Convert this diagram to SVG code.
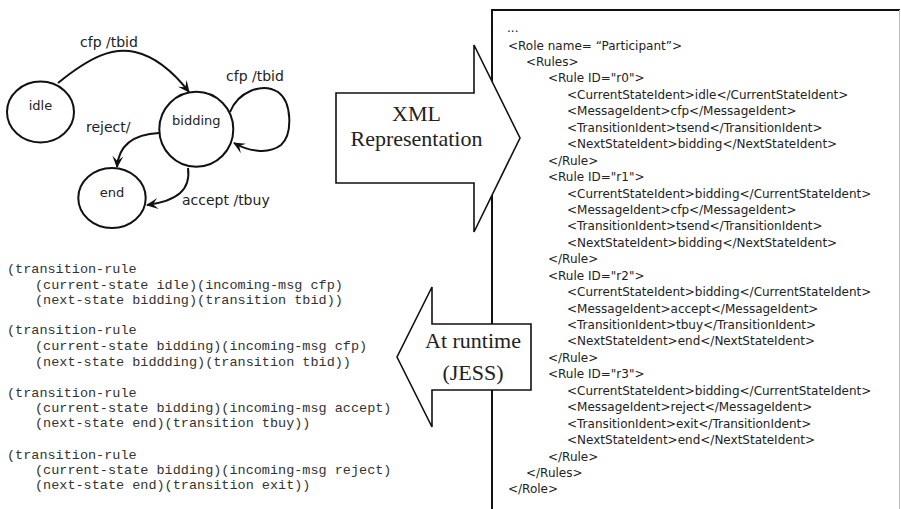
<svg xmlns="http://www.w3.org/2000/svg" width="901" height="509" viewBox="0 0 901 509">
<defs>
<style>
.state{fill:#fff;stroke:#111;stroke-width:2}
.sname{font-family:"DejaVu Sans",Verdana,sans-serif;font-size:13px;fill:#222;text-anchor:middle}
.lbl{font-family:"DejaVu Sans",Verdana,sans-serif;font-size:14px;fill:#222}
.edge{fill:none;stroke:#111;stroke-width:2}
.code{font-family:"Liberation Mono","Courier New",monospace;font-size:13.5px;fill:#333}
.xml{font-family:"DejaVu Sans",Verdana,sans-serif;font-size:12px;fill:#222}
.big{fill:#fff;stroke:#111;stroke-width:1.6}
.bigt{font-family:"Liberation Serif","Times New Roman",serif;font-size:22px;fill:#222;text-anchor:middle}
</style>
<marker id="ah" viewBox="0 0 12 12" refX="11" refY="6" markerWidth="12" markerHeight="12" markerUnits="userSpaceOnUse" orient="auto">
<path d="M0,0.5 L12,6 L0,11.5 L5,6 z" fill="#111"/>
</marker>
</defs>
<rect width="901" height="509" fill="#fff"/>

<g id="xml-box">
<path d="M492,509 V10 H900" fill="none" stroke="#111" stroke-width="2"/>
<path d="M899.5,10 V509" fill="none" stroke="#bbb" stroke-width="1"/>
<text class="xml" x="507" y="32">...</text>
<text class="xml" x="508" y="49.5">&lt;Role name= “Participant”&gt;</text>
<text class="xml" x="526" y="65.9">&lt;Rules&gt;</text>
<text class="xml" x="548" y="82.4">&lt;Rule ID="r0"&gt;</text>
<text class="xml" x="567" y="98.8">&lt;CurrentStateIdent&gt;idle&lt;/CurrentStateIdent&gt;</text>
<text class="xml" x="567" y="115.3">&lt;MessageIdent&gt;cfp&lt;/MessageIdent&gt;</text>
<text class="xml" x="567" y="131.7">&lt;TransitionIdent&gt;tsend&lt;/TransitionIdent&gt;</text>
<text class="xml" x="567" y="148.1">&lt;NextStateIdent&gt;bidding&lt;/NextStateIdent&gt;</text>
<text class="xml" x="548" y="164.6">&lt;/Rule&gt;</text>
<text class="xml" x="548" y="181.0">&lt;Rule ID="r1"&gt;</text>
<text class="xml" x="567" y="197.5">&lt;CurrentStateIdent&gt;bidding&lt;/CurrentStateIdent&gt;</text>
<text class="xml" x="567" y="213.9">&lt;MessageIdent&gt;cfp&lt;/MessageIdent&gt;</text>
<text class="xml" x="567" y="230.3">&lt;TransitionIdent&gt;tsend&lt;/TransitionIdent&gt;</text>
<text class="xml" x="567" y="246.8">&lt;NextStateIdent&gt;bidding&lt;/NextStateIdent&gt;</text>
<text class="xml" x="548" y="263.2">&lt;/Rule&gt;</text>
<text class="xml" x="548" y="279.7">&lt;Rule ID="r2"&gt;</text>
<text class="xml" x="567" y="296.1">&lt;CurrentStateIdent&gt;bidding&lt;/CurrentStateIdent&gt;</text>
<text class="xml" x="567" y="312.5">&lt;MessageIdent&gt;accept&lt;/MessageIdent&gt;</text>
<text class="xml" x="567" y="329.0">&lt;TransitionIdent&gt;tbuy&lt;/TransitionIdent&gt;</text>
<text class="xml" x="567" y="345.4">&lt;NextStateIdent&gt;end&lt;/NextStateIdent&gt;</text>
<text class="xml" x="548" y="361.9">&lt;/Rule&gt;</text>
<text class="xml" x="548" y="378.3">&lt;Rule ID="r3"&gt;</text>
<text class="xml" x="567" y="394.7">&lt;CurrentStateIdent&gt;bidding&lt;/CurrentStateIdent&gt;</text>
<text class="xml" x="567" y="411.2">&lt;MessageIdent&gt;reject&lt;/MessageIdent&gt;</text>
<text class="xml" x="567" y="427.6">&lt;TransitionIdent&gt;exit&lt;/TransitionIdent&gt;</text>
<text class="xml" x="567" y="444.1">&lt;NextStateIdent&gt;end&lt;/NextStateIdent&gt;</text>
<text class="xml" x="548" y="460.5">&lt;/Rule&gt;</text>
<text class="xml" x="526" y="476.9">&lt;/Rules&gt;</text>
<text class="xml" x="508" y="493.4">&lt;/Role&gt;</text>
</g>

<g id="xml-arrow">
<polygon class="big" points="336,93 474,93 474,45 520,138 474,232 474,183 336,183"/>
<text class="bigt" x="416.5" y="121">XML</text>
<text class="bigt" x="416.5" y="146">Representation</text>
</g>

<g id="jess-arrow">
<polygon class="big" points="531,324 432,324 432,287 397,357 432,427 432,390 531,390"/>
<text class="bigt" x="473" y="348">At runtime</text>
<text class="bigt" x="473" y="380">(JESS)</text>
</g>

<g id="state-idle">
<ellipse class="state" cx="40.5" cy="112" rx="33.5" ry="30.5"/>
<text class="sname" x="40.5" y="110">idle</text>
</g>
<g id="state-bidding">
<ellipse class="state" cx="196.3" cy="129.2" rx="37" ry="37.5"/>
<text class="sname" x="196.3" y="124.5">bidding</text>
</g>
<g id="state-end">
<ellipse class="state" cx="112" cy="198" rx="33.7" ry="30"/>
<text class="sname" x="112" y="197">end</text>
</g>

<g id="connectors">
<path class="edge" d="M58,83 C90,57 112,47 135,52 C157,57 175,74 189,92" marker-end="url(#ah)"/>
<path class="edge" d="M230,112 C238,92 262,82 278,92 C292,102 293,134 281,145 C268,155 248,151 234,143" marker-end="url(#ah)"/>
<path class="edge" d="M159,133 C140,134 119,140 117,167" marker-end="url(#ah)"/>
<path class="edge" d="M188,168 C191,190 177,201 147,205" marker-end="url(#ah)"/>
<text class="lbl" x="80" y="47">cfp /tbid</text>
<text class="lbl" x="226" y="81">cfp /tbid</text>
<text class="lbl" x="86" y="132">reject/</text>
<text class="lbl" x="182" y="205">accept /tbuy</text>
</g>

<g id="jess-rules">
<text class="code" x="7" y="273">(transition-rule</text>
<text class="code" x="35" y="289">(current-state idle)(incoming-msg cfp)</text>
<text class="code" x="35" y="304">(next-state bidding)(transition tbid))</text>
<text class="code" x="7" y="334">(transition-rule</text>
<text class="code" x="35" y="350">(current-state bidding)(incoming-msg cfp)</text>
<text class="code" x="35" y="366">(next-state biddding)(transition tbid))</text>
<text class="code" x="7" y="397">(transition-rule</text>
<text class="code" x="35" y="412">(current-state bidding)(incoming-msg accept)</text>
<text class="code" x="35" y="427">(next-state end)(transition tbuy))</text>
<text class="code" x="7" y="459">(transition-rule</text>
<text class="code" x="35" y="474">(current-state bidding)(incoming-msg reject)</text>
<text class="code" x="35" y="489">(next-state end)(transition exit))</text>
</g>
</svg>
